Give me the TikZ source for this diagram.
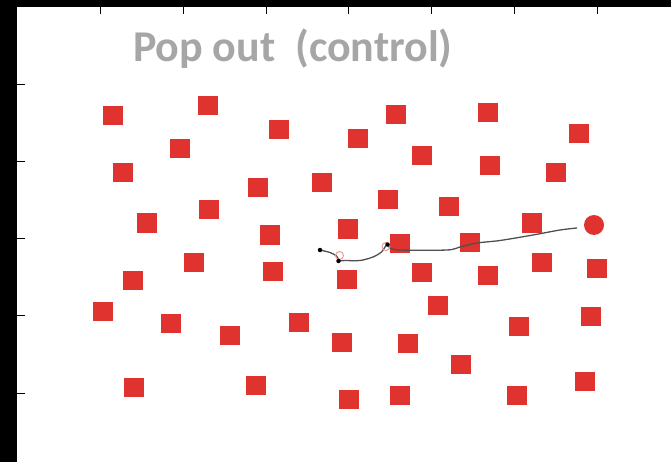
\documentclass[tikz,border=0pt]{standalone}
\usepackage{fontspec}
\newfontfamily\titlefont{Carlito}
\usetikzlibrary{positioning}
\definecolor{colTarget}{RGB}{224,50,46}
\definecolor{colTitle}{RGB}{166,166,166}
\definecolor{colPath}{RGB}{80,80,80}
\definecolor{colFix}{RGB}{230,150,150}

\begin{document}
\begin{tikzpicture}[x=1pt, y=-1pt,
    every node/.style={inner sep=0pt, outer sep=0pt},
    distractor/.style={fill=colTarget, minimum width=20pt, minimum height=19pt},
    target/.style={fill=colTarget, circle, minimum size=20pt},
    tick/.style={line width=0.9pt, black},
    fix/.style={draw=colFix, line width=0.9pt, circle, minimum size=8pt},
    land/.style={fill=black, circle, minimum size=4.5pt}
]
    \useasboundingbox (0,0) rectangle (671,462);
    \fill[white] (0,0) rectangle (671,462);
    % frame
    \fill[black] (0,0) rectangle (17,462);
    \fill[black] (0,0) rectangle (671,7);
    \foreach \x in {100.5,183.3,266,348.8,431.5,514.3,597}
        \draw[tick] (\x,7) -- (\x,14);
    \foreach \y in {84,161,238,315,393}
        \draw[tick] (17,\y) -- (25,\y);

    \node[anchor=base west, text=colTitle, font=\titlefont\bfseries\fontsize{44}{44}\selectfont] (title) at (133,62) {Pop out\hspace{0.45em}(control)};

    % distractors
    \foreach \x/\y [count=\i] in {
        113/116, 208/106, 279/130, 396/115, 488/113, 579/134,
        180/149, 358/139, 422/156, 490/166, 556/173, 123/173,
        258/188, 322/183, 388/200, 449/207, 209/210, 147/223,
        270/235, 348/229, 532/223, 400/243, 470/242, 194/262,
        273/271, 347/279, 422/272, 488/275, 542/262, 597/268,
        133/280, 103/311, 171/323, 230/335, 299/322, 342/342,
        408/343, 438/305, 519/326, 591/316, 461/364, 134/387,
        256/385, 349/399, 400/395, 517/395, 585/381}
        \node[distractor] (sq\i) at (\x,\y) {};
    \node[target] (tgt) at (594,225) {};

    % scan path
    \coordinate (start) at (320,250);
    \coordinate (stop) at (577,228);
    \draw[colPath, line width=1.3pt] (start) plot[smooth, tension=0.5] coordinates {
        (320,250) (330,252.5) (336.5,256) (339.5,260.5) (345,260.5) (360,260.5)
        (373,257) (381.5,252) (385,247) (387.5,244.5) (390,248) (400,250)
        (447,250) (460,247) (477,243) (500,240.5) (533,235) (560,230) (577,228)};
    \node[land] (s0) at (start) {};
    \node[fix] (f1) at (339.5,255.5) {};
    \node[land] (s1) at (338.5,261) {};
    \node[fix] (f2) at (386,246.5) {};
    \node[land] (s2) at (387.5,244.5) {};
\end{tikzpicture}
\end{document}
